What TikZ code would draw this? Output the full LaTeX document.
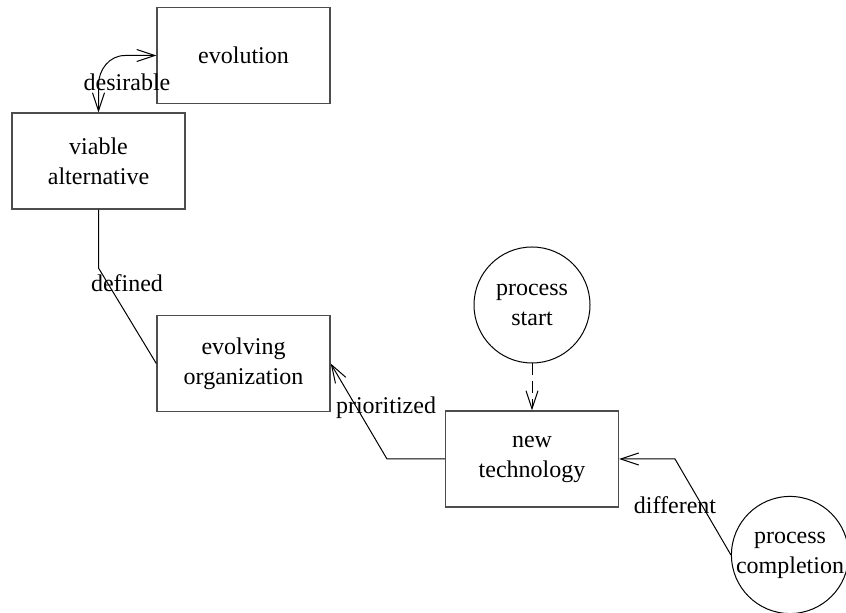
\documentclass[tikz,border=0pt]{standalone}
\usepackage{fontspec}
\setmainfont{Liberation Serif}
\usepackage{tikz}
\usetikzlibrary{arrows.meta,positioning}
\definecolor{evink}  {HTML}{000000}
\definecolor{evframe}{HTML}{4D4D4D}
\tikzset{
  evbox/.style={draw=evframe, line width=0.7pt, fill=white, align=center,
                minimum width=86.5pt, minimum height=48pt, inner sep=2pt,
                font=\fontsize{12}{15}\selectfont},
  evcirc/.style={draw=evink, line width=0.5pt, circle, align=center,
                 minimum size=58pt, inner sep=0pt, font=\fontsize{12}{15}\selectfont},
  evedge/.style={draw=evink, line width=0.5pt},
  evarrow/.style={evedge, -{Straight Barb[length=9pt,width=6pt]}},
  evlabel/.style={font=\fontsize{12}{15}\selectfont, inner sep=0pt},
}
\begin{document}
\begin{tikzpicture}[x=0.5pt,y=-0.5pt]
  \useasboundingbox (0,0) rectangle (846,613);
  % boxes and states
  \node[evbox]  (evolution)  at (243.5,55.5)  {evolution};
  \node[evbox]  (viable)     at (98.5,161)    {viable\\alternative};
  \node[evbox]  (evolving)   at (243.5,363.5) {evolving\\organization};
  \node[evbox]  (newtech)    at (532,459)     {new\\technology};
  \node[evcirc] (pstart)     at (532,305)     {process\\start};
  \node[evcirc] (pcompl)     at (790,555)     {process\\completion};
  % bends
  \coordinate (desA) at (125,55.5);
  \coordinate (desB) at (98.5,85);
  \coordinate (defA) at (98.5,268);
  \coordinate (priA) at (387,459);
  \coordinate (difA) at (675,459);
  % connectors
  \draw[evedge,{Straight Barb[length=9pt,width=6pt]}-{Straight Barb[length=9pt,width=6pt]}]
    (evolution.west) -- (desA) to[out=180,in=90] (desB) -- (viable.north);
  \draw[evedge] (viable.south) -- (defA) -- (evolving.west);
  \draw[evarrow] (newtech.west) -- (priA) -- (evolving.east);
  \draw[evarrow,dash pattern=on 6pt off 3pt] (pstart.south) -- (newtech.north);
  \draw[evarrow] (pcompl.west) -- (difA) -- (newtech.east);
  % labels
  \node[evlabel] (ldes) at (127,82)  {desirable};
  \node[evlabel] (ldef) at (127,283) {defined};
  \node[evlabel] (lpri) at (386,408) {prioritized};
  \node[evlabel] (ldif) at (675,505) {different};
\end{tikzpicture}
\end{document}
